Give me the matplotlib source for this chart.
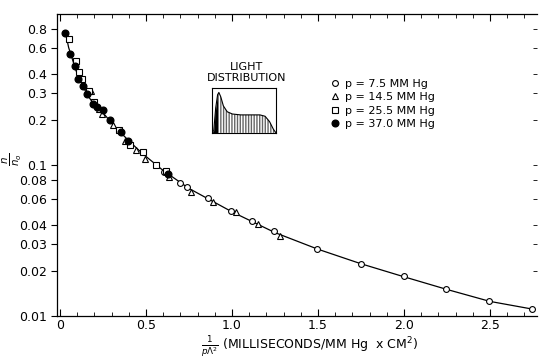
import matplotlib
matplotlib.use('Agg')
import matplotlib.pyplot as plt
import numpy as np
from matplotlib.ticker import FixedLocator, MultipleLocator, NullLocator

# open circles, p = 7.5 MM Hg
x_75 = [0.605, 0.698, 0.738, 0.860, 0.994, 1.116, 1.244, 1.494, 1.750, 2.000, 2.244, 2.494, 2.744]
y_75 = [0.0895, 0.0757, 0.0711, 0.0601, 0.0493, 0.0424, 0.0364, 0.0277, 0.0220, 0.0183, 0.0150, 0.0125, 0.0112]

# triangles, p = 14.5 MM Hg
x_145 = [0.180, 0.227, 0.244, 0.308, 0.378, 0.442, 0.494, 0.634, 0.762, 0.890, 1.023, 1.151, 1.279]
y_145 = [0.308, 0.234, 0.217, 0.183, 0.144, 0.125, 0.109, 0.0829, 0.0659, 0.0567, 0.0487, 0.0405, 0.0337]

# squares, p = 25.5 MM Hg
x_255 = [0.052, 0.093, 0.110, 0.128, 0.169, 0.198, 0.343, 0.407, 0.483, 0.558, 0.616]
y_255 = [0.679, 0.486, 0.411, 0.370, 0.308, 0.260, 0.170, 0.135, 0.123, 0.0995, 0.0908]

# filled circles, p = 37.0 MM Hg
x_370 = [0.029, 0.058, 0.087, 0.105, 0.134, 0.157, 0.192, 0.215, 0.250, 0.291, 0.355, 0.395, 0.628]
y_370 = [0.745, 0.541, 0.451, 0.370, 0.332, 0.294, 0.252, 0.241, 0.230, 0.198, 0.165, 0.144, 0.0867]

# fitted curve
curve_x = [0.03, 0.05, 0.08, 0.10, 0.13, 0.16, 0.20, 0.25, 0.30, 0.35, 0.40, 0.45, 0.50, 0.60,
           0.75, 1.00, 1.25, 1.50, 1.75, 2.00, 2.25, 2.50, 2.75]
curve_y = [0.77, 0.60, 0.47, 0.40, 0.34, 0.29, 0.25, 0.222, 0.19, 0.165, 0.145, 0.128, 0.114, 0.092,
           0.070, 0.049, 0.0357, 0.0277, 0.0222, 0.0182, 0.0150, 0.0125, 0.0111]

# light distribution sketch (relative units)
ld_x = [0.0, 0.03, 0.06, 0.09, 0.11, 0.14, 0.18, 0.24, 0.32, 0.45, 0.6, 0.75, 0.83, 0.9, 0.96, 1.0]
ld_y = [0.0, 0.05, 0.55, 0.85, 0.9, 0.8, 0.6, 0.47, 0.42, 0.40, 0.40, 0.40, 0.37, 0.25, 0.08, 0.0]

yticks = [0.01, 0.02, 0.03, 0.04, 0.06, 0.08, 0.1, 0.2, 0.3, 0.4, 0.6, 0.8]
ytick_labels = ['0.01', '0.02', '0.03', '0.04', '0.06', '0.08', '0.1', '0.2', '0.3', '0.4', '0.6', '0.8']
xticks = [0, 0.5, 1.0, 1.5, 2.0, 2.5]
xtick_labels = ['0', '0.5', '1.0', '1.5', '2.0', '2.5']

fig = plt.figure(figsize=(5.39, 3.62), dpi=100)
ax = fig.add_axes([0.106, 0.127, 0.890, 0.834])

ax.plot(curve_x, curve_y, color='black', lw=0.9, zorder=1)
ax.plot(x_75, y_75, 'o', ms=4.2, mfc='white', mec='black', mew=0.8, ls='none', label='p = 7.5 MM Hg', zorder=2)
ax.plot(x_145, y_145, '^', ms=4.2, mfc='white', mec='black', mew=0.8, ls='none', label='p = 14.5 MM Hg', zorder=2)
ax.plot(x_255, y_255, 's', ms=3.8, mfc='white', mec='black', mew=0.8, ls='none', label='p = 25.5 MM Hg', zorder=2)
ax.plot(x_370, y_370, 'o', ms=4.8, mfc='black', mec='black', ls='none', label='p = 37.0 MM Hg', zorder=3)

ax.set_yscale('log')
ax.set_ylim(0.01, 1.0)
ax.set_xlim(-0.017, 2.773)

ax.yaxis.set_major_locator(FixedLocator(yticks))
ax.set_yticklabels(ytick_labels)
ax.yaxis.set_minor_locator(NullLocator())
ax.set_xticks(xticks)
ax.set_xticklabels(xtick_labels)
ax.xaxis.set_minor_locator(MultipleLocator(0.1))

ax.tick_params(axis='x', which='both', direction='in', top=True, bottom=True, labelsize=9, pad=2)
ax.tick_params(axis='x', which='major', length=5, width=0.8)
ax.tick_params(axis='x', which='minor', length=3, width=0.6)
ax.tick_params(axis='y', which='major', direction='out', left=True, right=False, length=4, width=0.8, labelsize=9)
for s in ['left', 'bottom', 'top']:
    ax.spines[s].set_linewidth(0.9)
ax.spines['right'].set_visible(False)

# small inward marks on the right side
ax_r = ax.twinx()
ax_r.set_yscale('log')
ax_r.set_ylim(ax.get_ylim())
ax_r.yaxis.set_major_locator(FixedLocator(yticks))
ax_r.yaxis.set_minor_locator(NullLocator())
ax_r.tick_params(axis='y', direction='in', length=3, width=0.6, labelright=False)
for s in ax_r.spines.values():
    s.set_visible(False)

ax.set_ylabel(r'$\frac{n}{n_o}$', fontsize=10.5)
ax.yaxis.set_label_coords(-0.093, 0.52)
ax.yaxis.label.set_va('center')
ax.set_xlabel(r'$\frac{1}{p\Lambda^2}$ (MILLISECONDS/MM Hg  x CM$^2$)', fontsize=9)
ax.xaxis.set_label_coords(0.527, -0.105)
ax.xaxis.label.set_va('center')

ax.legend(loc='upper left', bbox_to_anchor=(0.56, 0.80), frameon=False, fontsize=8,
          handlelength=0.8, handletextpad=0.5, labelspacing=0.3, borderaxespad=0)

# inset sketch
ins = fig.add_axes([0.393, 0.633, 0.119, 0.124])
ld_xa = np.array(ld_x)
ld_ya = np.array(ld_y)
ins.fill_between(ld_xa, ld_ya, color='white', hatch='||||||', edgecolor='0.4', lw=0)
ins.fill_between(ld_xa, ld_ya, where=ld_xa <= 0.09, color='black', lw=0)
ins.plot(ld_x, ld_y, color='black', lw=0.8)
ins.set_xlim(0, 1)
ins.set_ylim(0, 1)
ins.set_xticks([])
ins.set_yticks([])
for s in ins.spines.values():
    s.set_linewidth(0.8)
fig.text(0.458, 0.772, 'LIGHT\nDISTRIBUTION', ha='center', va='bottom', fontsize=8, linespacing=1.1)

fig.savefig('out.png', dpi=100)
